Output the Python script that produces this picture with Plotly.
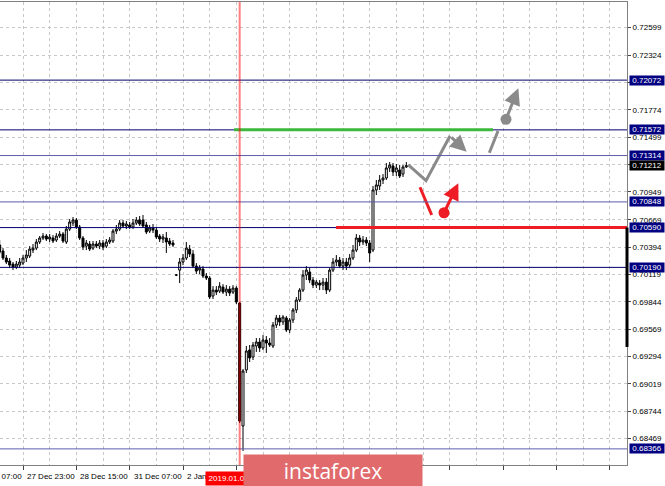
import plotly.graph_objects as go

# ---------------- data (H1 candles, bar index 0 = "27 Dec 23:00") ----------------
bar_index = list(range(-7, 116))

open_ = [0.70415, 0.70354, 0.70284, 0.70254, 0.70223, 0.70193, 0.70213,
         0.70233, 0.70284, 0.70304, 0.70364, 0.70384, 0.70445, 0.70485, 0.70505, 0.70475, 0.70485,
         0.70465, 0.70505, 0.70525, 0.70445, 0.70575, 0.70636, 0.70666, 0.70596, 0.70485, 0.70404,
         0.70425, 0.70384, 0.70425, 0.70404, 0.70435, 0.70404, 0.70445, 0.70455, 0.70555, 0.70575,
         0.70636, 0.70606, 0.70616, 0.70596, 0.70636, 0.70666, 0.70666, 0.70616, 0.70555, 0.70586,
         0.70565, 0.70505, 0.70475, 0.70485, 0.70455, 0.70435, 0.70113, 0.70163, 0.70244, 0.70284,
         0.70374, 0.70324, 0.70203, 0.70163, 0.70173, 0.70103, 0.70083, 0.69902, 0.69962, 0.69952,
         0.69992, 0.69942, 0.69972, 0.69942, 0.69982, 0.69832, 0.68596, 0.69159, 0.69360, 0.69289,
         0.69400, 0.69440, 0.69380, 0.69460, 0.69430, 0.69400, 0.69611, 0.69681, 0.69641, 0.69681,
         0.69561, 0.69661, 0.69762, 0.69862, 0.69962, 0.70113, 0.70143, 0.70063, 0.70012, 0.70032,
         0.70012, 0.70042, 0.69962, 0.70163, 0.70244, 0.70264, 0.70203, 0.70244, 0.70213, 0.70284,
         0.70364, 0.70485, 0.70445, 0.70465, 0.70435, 0.70364, 0.70968, 0.71008, 0.71068, 0.71088,
         0.71189, 0.71209, 0.71149, 0.71169, 0.71128, 0.71199]
high = [0.70465, 0.70384, 0.70314, 0.70284, 0.70244, 0.70254, 0.70284,
        0.70314, 0.70364, 0.70404, 0.70425, 0.70475, 0.70505, 0.70535, 0.70525, 0.70525, 0.70515,
        0.70535, 0.70555, 0.70545, 0.70606, 0.70676, 0.70696, 0.70686, 0.70616, 0.70505, 0.70465,
        0.70455, 0.70455, 0.70455, 0.70465, 0.70465, 0.70475, 0.70495, 0.70575, 0.70616, 0.70666,
        0.70666, 0.70656, 0.70646, 0.70676, 0.70696, 0.70706, 0.70716, 0.70646, 0.70616, 0.70626,
        0.70596, 0.70525, 0.70525, 0.70545, 0.70485, 0.70465, 0.70123, 0.70284, 0.70324, 0.70445,
        0.70415, 0.70364, 0.70233, 0.70213, 0.70203, 0.70133, 0.70103, 0.70002, 0.70002, 0.70042,
        0.70022, 0.70012, 0.70002, 0.70012, 0.70002, 0.69842, 0.69169, 0.69400, 0.69410, 0.69440,
        0.69480, 0.69480, 0.69510, 0.69500, 0.69480, 0.69641, 0.69711, 0.69711, 0.69711, 0.69701,
        0.69681, 0.69782, 0.69892, 0.69982, 0.70163, 0.70203, 0.70183, 0.70093, 0.70063, 0.70063,
        0.70083, 0.70083, 0.70183, 0.70284, 0.70314, 0.70294, 0.70284, 0.70284, 0.70324, 0.70415,
        0.70525, 0.70515, 0.70505, 0.70495, 0.70465, 0.71008, 0.71068, 0.71118, 0.71128, 0.71239,
        0.71249, 0.71239, 0.71229, 0.71219, 0.71219, 0.71249]
low = [0.70324, 0.70264, 0.70223, 0.70183, 0.70163, 0.70173, 0.70183,
       0.70213, 0.70244, 0.70284, 0.70334, 0.70364, 0.70425, 0.70465, 0.70455, 0.70445, 0.70435,
       0.70445, 0.70485, 0.70435, 0.70425, 0.70555, 0.70606, 0.70575, 0.70465, 0.70364, 0.70364,
       0.70354, 0.70364, 0.70384, 0.70374, 0.70364, 0.70384, 0.70425, 0.70435, 0.70525, 0.70555,
       0.70586, 0.70575, 0.70575, 0.70575, 0.70616, 0.70606, 0.70586, 0.70525, 0.70535, 0.70535,
       0.70475, 0.70445, 0.70435, 0.70334, 0.70404, 0.70394, 0.70103, 0.70032, 0.70213, 0.70264,
       0.70294, 0.70183, 0.70123, 0.70123, 0.70083, 0.70063, 0.69872, 0.69872, 0.69912, 0.69932,
       0.69922, 0.69902, 0.69902, 0.69922, 0.69822, 0.68626, 0.68345, 0.69129, 0.69239, 0.69259,
       0.69340, 0.69340, 0.69360, 0.69330, 0.69390, 0.69380, 0.69581, 0.69601, 0.69611, 0.69541,
       0.69530, 0.69631, 0.69731, 0.69842, 0.69942, 0.70063, 0.70032, 0.69982, 0.69982, 0.69962,
       0.69962, 0.69922, 0.69942, 0.70143, 0.70203, 0.70183, 0.70163, 0.70163, 0.70183, 0.70264,
       0.70344, 0.70404, 0.70415, 0.70404, 0.70244, 0.70344, 0.70917, 0.70968, 0.71028, 0.71068,
       0.71149, 0.71108, 0.71108, 0.71088, 0.71098, 0.71189]
close = [0.70344, 0.70284, 0.70244, 0.70213, 0.70193, 0.70223, 0.70244,
         0.70284, 0.70314, 0.70374, 0.70384, 0.70445, 0.70485, 0.70505, 0.70475, 0.70495, 0.70455,
         0.70505, 0.70525, 0.70455, 0.70575, 0.70646, 0.70666, 0.70596, 0.70485, 0.70394, 0.70435,
         0.70374, 0.70425, 0.70404, 0.70435, 0.70394, 0.70445, 0.70465, 0.70555, 0.70575, 0.70636,
         0.70606, 0.70626, 0.70596, 0.70636, 0.70666, 0.70626, 0.70606, 0.70545, 0.70586, 0.70565,
         0.70495, 0.70475, 0.70495, 0.70445, 0.70425, 0.70415, 0.70113, 0.70244, 0.70284, 0.70384,
         0.70324, 0.70203, 0.70153, 0.70183, 0.70103, 0.70083, 0.69892, 0.69962, 0.69942, 0.70002,
         0.69942, 0.69972, 0.69932, 0.69982, 0.69842, 0.68646, 0.69149, 0.69350, 0.69279, 0.69410,
         0.69440, 0.69380, 0.69460, 0.69430, 0.69410, 0.69611, 0.69681, 0.69641, 0.69691, 0.69561,
         0.69661, 0.69762, 0.69862, 0.69962, 0.70113, 0.70163, 0.70063, 0.70012, 0.70042, 0.70012,
         0.70042, 0.69962, 0.70163, 0.70244, 0.70264, 0.70203, 0.70244, 0.70203, 0.70284, 0.70364,
         0.70485, 0.70445, 0.70465, 0.70435, 0.70334, 0.70968, 0.71018, 0.71068, 0.71088, 0.71189,
         0.71219, 0.71149, 0.71189, 0.71108, 0.71199, 0.71212]

time_tick_bars = [-16, 0, 16, 32, 48, 64, 80, 96]
time_tick_labels = ["27 Dec 07:00", "27 Dec 23:00", "28 Dec 15:00", "31 Dec 07:00",
                    "2 Jan 07:00", "2 Jan 23:00", "3 Jan 15:00", "4 Jan 07:00"]

price_ticks = [0.72599, 0.72324, 0.72049, 0.71774, 0.71499, 0.71224, 0.70949, 0.70669,
               0.70394, 0.70119, 0.69844, 0.69569, 0.69294, 0.69019, 0.68744, 0.68469, 0.68194]

level_prices = [0.72072, 0.71572, 0.71314, 0.70848, 0.70590, 0.70190, 0.68366]
level_colors = ["#00006a", "#00006a", "#5c5cac", "#5c5cac", "#00006a", "#00006a", "#5c5cac"]
current_price = 0.71212

event_bar = 65
event_label = "2019.01.03 00:00"

green_level, green_bars = 0.71572, [63.3, 141.0]
red_level, red_start_bar = 0.70590, 93.9

gray_path_x = [115.6, 120.9, 128.1]
gray_path_y = [0.71219, 0.71061, 0.71510]
gray_arrow1_tip = (133.1, 0.71352)
gray_stroke_x = [139.9, 142.5]
gray_stroke_y = [0.71342, 0.71561]
gray_dot = (144.9, 0.71678)
gray_arrow2_tip = (148.6, 0.71990)
red_stroke_x = [119.1, 122.6]
red_stroke_y = [0.70995, 0.70716]
red_dot = (126.3, 0.70739)
red_arrow_tip = (130.6, 0.71035)

X_MIN, X_MAX = -6.9, 181.2
Y_MIN, Y_MAX = 0.68204, 0.72857

FONT = "Liberation Sans, Arial, sans-serif"
GRAY = "#8a8a8a"
RED = "#ee1c24"

fig = go.Figure()

fig.add_trace(go.Candlestick(
    x=bar_index, open=open_, high=high, low=low, close=close,
    increasing=dict(line=dict(color="black", width=1), fillcolor="white"),
    decreasing=dict(line=dict(color="black", width=1), fillcolor="black"),
    whiskerwidth=0, hoverinfo="skip", showlegend=False))

# forecast drawings
fig.add_trace(go.Scatter(x=gray_path_x, y=gray_path_y, mode="lines",
                         line=dict(color=GRAY, width=3), hoverinfo="skip", showlegend=False))
fig.add_trace(go.Scatter(x=gray_stroke_x, y=gray_stroke_y, mode="lines",
                         line=dict(color=GRAY, width=3), hoverinfo="skip", showlegend=False))
fig.add_trace(go.Scatter(x=red_stroke_x, y=red_stroke_y, mode="lines",
                         line=dict(color=RED, width=3), hoverinfo="skip", showlegend=False))
fig.add_trace(go.Scatter(x=[gray_dot[0]], y=[gray_dot[1]], mode="markers",
                         marker=dict(color=GRAY, size=11), hoverinfo="skip", showlegend=False))
fig.add_trace(go.Scatter(x=[red_dot[0]], y=[red_dot[1]], mode="markers",
                         marker=dict(color=RED, size=11), hoverinfo="skip", showlegend=False))

shapes = []
for p, c in zip(level_prices, level_colors):
    shapes.append(dict(type="line", xref="paper", x0=0, x1=1, yref="y", y0=p, y1=p,
                       line=dict(color=c, width=1), layer="above"))
shapes.append(dict(type="line", xref="x", x0=green_bars[0], x1=green_bars[1], yref="y",
                   y0=green_level, y1=green_level, line=dict(color="#3cb83c", width=3), layer="above"))
shapes.append(dict(type="line", xref="x", x0=red_start_bar, x1=X_MAX, yref="y",
                   y0=red_level, y1=red_level, line=dict(color=RED, width=3), layer="above"))
shapes.append(dict(type="line", xref="x", x0=event_bar, x1=event_bar, yref="paper", y0=0, y1=1,
                   line=dict(color="rgba(255,0,0,0.5)", width=2), layer="above"))
shapes.append(dict(type="line", xref="paper", x0=1, x1=1, yref="y", y0=0.70590, y1=0.69390,
                   line=dict(color="black", width=3), layer="above"))

annotations = []
# forecast arrows
for (tx, ty), (ax_, ay_), col in [(gray_arrow1_tip, (gray_path_x[-1], gray_path_y[-1]), GRAY),
                                  (gray_arrow2_tip, gray_dot, GRAY),
                                  (red_arrow_tip, red_dot, RED)]:
    annotations.append(dict(x=tx, y=ty, xref="x", yref="y", ax=ax_, ay=ay_, axref="x", ayref="y",
                            text="", showarrow=True, arrowhead=2, arrowsize=1.1, arrowwidth=3,
                            arrowcolor=col, standoff=0, startstandoff=0))

def bar_to_paper(b):
    return (b - X_MIN) / (X_MAX - X_MIN)

# time labels (left aligned at the tick, MT4 style)
for b, t in zip(time_tick_bars, time_tick_labels):
    annotations.append(dict(x=bar_to_paper(b) + 2 / 627, y=-0.024, xref="paper", yref="paper",
                            xanchor="left", yanchor="middle", text=t, showarrow=False,
                            font=dict(family=FONT, size=8, color="black")))

# highlighted price labels
for p in level_prices:
    annotations.append(dict(x=1.003, y=p, xref="paper", yref="y", xanchor="left", yanchor="middle",
                            text=f"{p:.5f}", showarrow=False, bgcolor="#000080", borderpad=0,
                            width=34, height=9, font=dict(family=FONT, size=8, color="white")))
annotations.append(dict(x=1.003, y=current_price, xref="paper", yref="y", xanchor="left",
                        yanchor="middle", text=f"{current_price:.5f}", showarrow=False,
                        bgcolor="black", borderpad=0, width=34, height=9,
                        font=dict(family=FONT, size=8, color="white")))

# vertical line date label
annotations.append(dict(x=bar_to_paper(event_bar), y=-0.0281, xref="paper", yref="paper",
                        xanchor="center", yanchor="middle", text=event_label, showarrow=False,
                        bgcolor="#ff0000", borderpad=0, width=68, height=13,
                        font=dict(family=FONT, size=8, color="white")))

# watermark
annotations.append(dict(x=333 / 627, y=-0.0119, xref="paper", yref="paper",
                        xanchor="center", yanchor="middle", text="instaforex", showarrow=False,
                        bgcolor="#e06a6c", borderpad=0, width=178, height=31,
                        font=dict(family="Open Sans, sans-serif", size=21, color="white")))

grid = dict(showgrid=True, gridcolor="#c8c8c8", gridwidth=1, griddash="3px,3px")

fig.update_layout(
    width=665, height=486,
    margin=dict(l=0, r=38, t=2, b=21, autoexpand=False),
    paper_bgcolor="white", plot_bgcolor="white",
    boxgap=0.15,
    shapes=shapes, annotations=annotations,
    xaxis=dict(range=[X_MIN, X_MAX], rangeslider=dict(visible=False),
               tickmode="linear", tick0=0, dtick=16, ticks="outside", ticklen=4,
               tickcolor="#444", showticklabels=False, zeroline=False, automargin=False,
               showline=True, linecolor="#808080", linewidth=1, mirror=True,
               minor=dict(tick0=0, dtick=8, ticks="", showgrid=True, gridcolor="#c8c8c8",
                          griddash="3px,3px"),
               **grid),
    yaxis=dict(range=[Y_MIN, Y_MAX], side="right", tickmode="array", tickvals=price_ticks,
               ticktext=[f"{v:.5f}" for v in price_ticks], ticks="outside", ticklen=3,
               tickcolor="#444", tickfont=dict(family=FONT, size=8, color="black"),
               zeroline=False, showline=True, linecolor="#808080", linewidth=1, automargin=False,
               **grid),
    showlegend=False,
)

fig.write_html("out.html", config={"displayModeBar": False},
               post_script="document.body.style.margin='0';document.body.style.overflow='hidden';")
